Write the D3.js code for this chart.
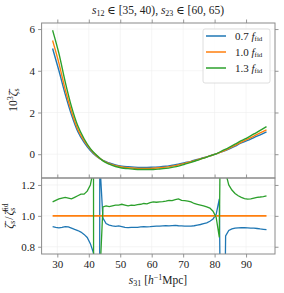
<!DOCTYPE html>
<html>
<head>
<meta charset="utf-8">
<script src="https://cdn.jsdelivr.net/npm/d3@7"></script>
<style>
  body { margin: 0; background: #fff; }
  svg { font-family: "Liberation Serif", "DejaVu Serif", serif; }
</style>
</head>
<body>
<div id="chart"></div>
<script>
// top panel: 10^3 zeta_s, sampled every 2 h^-1 Mpc
var sTop = [28.5, 30.5, 32.5, 34.5, 36.5, 38.5, 40.5, 42.5, 44.5, 46.5, 48.5, 50.5, 52.5, 54.5, 56.5, 58.5, 60.5,
  62.5, 64.5, 66.5, 68.5, 70.5, 72.5, 74.5, 76.5, 78.5, 80.5, 82.5, 84.5, 86.5, 88.5, 90.5, 92.5, 94.5, 96.5]
var zetaLow = [5.07, 4.01, 2.88, 1.89, 1.09, 0.57, 0.18, -0.11, -0.30, -0.42, -0.51, -0.57, -0.60, -0.62, -0.63, -0.63, -0.62,
  -0.61, -0.58, -0.53, -0.48, -0.41, -0.34, -0.25, -0.17, -0.08, 0.02, 0.12, 0.24, 0.39, 0.54, 0.66, 0.80, 0.93, 1.07]
var zetaFid = [5.45, 4.37, 3.10, 2.05, 1.20, 0.65, 0.24, -0.08, -0.30, -0.45, -0.55, -0.61, -0.65, -0.67, -0.68, -0.68, -0.67,
  -0.65, -0.62, -0.57, -0.51, -0.44, -0.36, -0.27, -0.18, -0.08, 0.02, 0.14, 0.27, 0.42, 0.58, 0.72, 0.87, 1.02, 1.17]
var zetaHigh = [5.94, 4.83, 3.47, 2.28, 1.36, 0.74, 0.27, -0.05, -0.32, -0.48, -0.59, -0.66, -0.69, -0.72, -0.73, -0.73, -0.73,
  -0.71, -0.68, -0.63, -0.57, -0.48, -0.39, -0.29, -0.19, -0.08, 0.02, 0.17, 0.32, 0.48, 0.65, 0.80, 0.97, 1.14, 1.32]

// bottom panel: ratio to fiducial, every 1 h^-1 Mpc
var sRatio = d3.range(28.5, 97, 1)
var ratioLow = [0.93, 0.925, 0.922, 0.925, 0.93, 0.928, 0.92, 0.912, 0.905, 0.895, 0.88, 0.86, 0.82, 0.76,
  -20, 1.35, 0.985, 0.95, 0.94, 0.935, 0.932, 0.935, 0.93, 0.925, 0.924, 0.925, 0.926, 0.926, 0.928, 0.93,
  0.929, 0.93, 0.932, 0.934, 0.933, 0.935, 0.936, 0.935, 0.937, 0.938, 0.936, 0.935, 0.934, 0.933, 0.934,
  0.936, 0.94, 0.944, 0.95, 0.955, 0.965, 0.98, 1.01, 1.11, -1.0, 0.87, 0.905, 0.915, 0.92, 0.922, 0.923,
  0.923, 0.922, 0.921, 0.92, 0.918, 0.915, 0.913, 0.911]
var ratioFid = [1.0, 1.0]
var sFid = [28.5, 96.5]
var ratioHigh = [1.09, 1.10, 1.11, 1.115, 1.12, 1.115, 1.11, 1.12, 1.13, 1.14, 1.14, 1.16, 1.20, 1.30,
  -20, 0.6, 1.058, 1.065, 1.06, 1.065, 1.07, 1.07, 1.075, 1.07, 1.065, 1.07, 1.068, 1.072, 1.075, 1.08,
  1.078, 1.085, 1.09, 1.088, 1.09, 1.092, 1.095, 1.10, 1.098, 1.105, 1.11, 1.10, 1.098, 1.095, 1.09,
  1.08, 1.075, 1.07, 1.065, 1.058, 1.05, 1.03, 0.99, 0.86, 3.0, 1.28, 1.20, 1.167, 1.145, 1.13, 1.12,
  1.112, 1.108, 1.11, 1.115, 1.12, 1.122, 1.125, 1.13]

var labels = ['0.7', '1.0', '1.3']
var colors = ['#1f77b4', '#ff7f0e', '#2ca02c']
var xTicks = [30, 40, 50, 60, 70, 80, 90]
var yTopTicks = [0, 2, 4, 6]
var yBotTicks = [0.8, 1.0, 1.2]

var width = 284, height = 293
var left = 41.6, right = 275
var topY = 23, midY = 178, botY = 254
var spine = '#8a8a8a'
var serif = '"Liberation Serif", "DejaVu Serif", serif'

var svg = d3.select('#chart').append('svg')
  .attr('width', width)
  .attr('height', height)

var x = d3.scaleLinear().domain([25, 99.2]).range([left, right])
var yTop = d3.scaleLinear().domain([-1.14, 6.29]).range([midY, topY])
var yBot = d3.scaleLinear().domain([0.753, 1.245]).range([botY, midY])

// clip paths
var defs = svg.append('defs')
defs.append('clipPath').attr('id', 'clipTop').append('rect')
  .attr('x', left).attr('y', topY).attr('width', right - left).attr('height', midY - topY)
defs.append('clipPath').attr('id', 'clipBot').append('rect')
  .attr('x', left).attr('y', midY).attr('width', right - left).attr('height', botY - midY)

// faint grid
function grid(yScale, yTicks, y0, y1) {
  var g = svg.append('g').attr('stroke', '#eeeeee').attr('stroke-width', 0.6)
  g.selectAll('.gx').data(xTicks).enter().append('line')
    .attr('x1', d => x(d)).attr('x2', d => x(d)).attr('y1', y0).attr('y2', y1)
  g.selectAll('.gy').data(yTicks).enter().append('line')
    .attr('x1', left).attr('x2', right).attr('y1', d => yScale(d)).attr('y2', d => yScale(d))
}
grid(yTop, yTopTicks, topY, midY)
grid(yBot, yBotTicks, midY, botY)

// top panel lines
var lineTop = d3.line().x(d => x(d[0])).y(d => yTop(d[1])).curve(d3.curveMonotoneX)
var topSeries = [zetaLow, zetaFid, zetaHigh]
topSeries.forEach(function (vals, i) {
  svg.append('path')
    .datum(sTop.map((s, j) => [s, vals[j]]))
    .attr('clip-path', 'url(#clipTop)')
    .attr('fill', 'none')
    .attr('stroke', colors[i])
    .attr('stroke-width', 1.4)
    .attr('d', lineTop)
})

// bottom panel lines
var lineBot = d3.line().x(d => x(d[0])).y(d => yBot(d[1]))
var botSeries = [[sRatio, ratioLow], [sFid, ratioFid], [sRatio, ratioHigh]]
botSeries.forEach(function (sv, i) {
  svg.append('path')
    .datum(sv[0].map((s, j) => [s, sv[1][j]]))
    .attr('clip-path', 'url(#clipBot)')
    .attr('fill', 'none')
    .attr('stroke', colors[i])
    .attr('stroke-width', i === 1 ? 1.6 : 1.3)
    .attr('d', lineBot)
})

// axes
function styleAxis(g) {
  g.attr('font-family', serif).attr('font-size', 11)
  g.select('.domain').remove()
  g.selectAll('.tick line').attr('stroke', spine).attr('stroke-width', 0.9)
  g.selectAll('.tick text').attr('fill', '#222')
}
var fmt1 = d3.format('.1f')
svg.append('g').attr('transform', `translate(${left},0)`)
  .call(d3.axisLeft(yTop).tickValues(yTopTicks).tickSize(3.5).tickPadding(3))
  .call(styleAxis)
svg.append('g').attr('transform', `translate(${right},0)`)
  .call(d3.axisRight(yTop).tickValues(yTopTicks).tickSize(3.5).tickFormat(''))
  .call(styleAxis)
svg.append('g').attr('transform', `translate(${left},0)`)
  .call(d3.axisLeft(yBot).tickValues(yBotTicks).tickSize(3.5).tickPadding(3).tickFormat(fmt1))
  .call(styleAxis)
svg.append('g').attr('transform', `translate(${right},0)`)
  .call(d3.axisRight(yBot).tickValues(yBotTicks).tickSize(3.5).tickFormat(''))
  .call(styleAxis)
svg.append('g').attr('transform', `translate(0,${topY})`)
  .call(d3.axisTop(x).tickValues(xTicks).tickSize(3.5).tickFormat(''))
  .call(styleAxis)
svg.append('g').attr('transform', `translate(0,${midY})`)
  .call(d3.axisTop(x).tickValues(xTicks).tickSize(3.5).tickFormat(''))
  .call(styleAxis)
svg.append('g').attr('transform', `translate(0,${botY})`)
  .call(d3.axisBottom(x).tickValues(xTicks).tickSize(3.5).tickPadding(3))
  .call(styleAxis)

// spines
svg.append('rect').attr('x', left).attr('y', topY).attr('width', right - left).attr('height', midY - topY)
  .attr('fill', 'none').attr('stroke', spine).attr('stroke-width', 1)
svg.append('rect').attr('x', left).attr('y', midY).attr('width', right - left).attr('height', botY - midY)
  .attr('fill', 'none').attr('stroke', spine).attr('stroke-width', 1)

// title
var title = svg.append('text').attr('x', 158).attr('y', 14).attr('text-anchor', 'middle')
  .attr('font-size', 11.5).attr('fill', '#222')
title.append('tspan').attr('font-style', 'italic').text('s')
title.append('tspan').attr('font-size', 8).attr('dy', 2).text('12')
title.append('tspan').attr('dy', -2).text(' ∈ [35, 40), ')
title.append('tspan').attr('font-style', 'italic').text('s')
title.append('tspan').attr('font-size', 8).attr('dy', 2).text('23')
title.append('tspan').attr('dy', -2).text(' ∈ [60, 65)')

// x label
var xl = svg.append('text').attr('x', 158).attr('y', 284).attr('text-anchor', 'middle')
  .attr('font-size', 11.5).attr('fill', '#222')
xl.append('tspan').attr('font-style', 'italic').text('s')
xl.append('tspan').attr('font-size', 8).attr('dy', 2).text('31')
xl.append('tspan').attr('dy', -2).text('   [')
xl.append('tspan').attr('font-style', 'italic').text('h')
xl.append('tspan').attr('font-size', 8).attr('dy', -4).text('−1')
xl.append('tspan').attr('dy', 4).text('Mpc]')

// y label top
var yl = svg.append('text').attr('transform', 'translate(16.5,100) rotate(-90)')
  .attr('text-anchor', 'middle').attr('font-size', 11.5).attr('fill', '#222')
yl.append('tspan').text('10')
yl.append('tspan').attr('font-size', 8).attr('dy', -4).text('3')
yl.append('tspan').attr('dy', 4).attr('font-style', 'italic').text('ζ̄')
yl.append('tspan').attr('font-size', 8).attr('dy', 2).text('s')

// y label bottom
var yb = svg.append('text').attr('transform', 'translate(13,216) rotate(-90)')
  .attr('text-anchor', 'middle').attr('font-size', 12).attr('fill', '#222')
yb.append('tspan').attr('font-style', 'italic').text('ζ̄')
yb.append('tspan').attr('font-size', 7.5).attr('dy', 2).text('s')
yb.append('tspan').attr('dy', -2).attr('dx', 1).text('/')
yb.append('tspan').attr('font-style', 'italic').attr('dx', 1).text('ζ̄')
yb.append('tspan').attr('font-size', 7.5).attr('dy', 2).text('s')
yb.append('tspan').attr('font-size', 7.5).attr('dy', -7).attr('dx', -4).text('fid')

// legend
var legend = svg.append('g').attr('transform', 'translate(203,29)')
legend.append('rect').attr('width', 67).attr('height', 54).attr('rx', 2)
  .attr('fill', '#fff').attr('fill-opacity', 0.85).attr('stroke', '#d5d5d5').attr('stroke-width', 0.8)
labels.forEach(function (lab, i) {
  var y = 7 + i * 16
  legend.append('line').attr('x1', 3).attr('x2', 23).attr('y1', y).attr('y2', y)
    .attr('stroke', colors[i]).attr('stroke-width', 1.5)
  var t = legend.append('text').attr('x', 32).attr('y', y + 3.5).attr('font-size', 11).attr('fill', '#222')
  t.append('tspan').text(lab + ' ')
  t.append('tspan').attr('font-style', 'italic').text('f')
  t.append('tspan').attr('font-size', 7).attr('dy', 1.5).text('fid')
})
</script>
</body>
</html>
